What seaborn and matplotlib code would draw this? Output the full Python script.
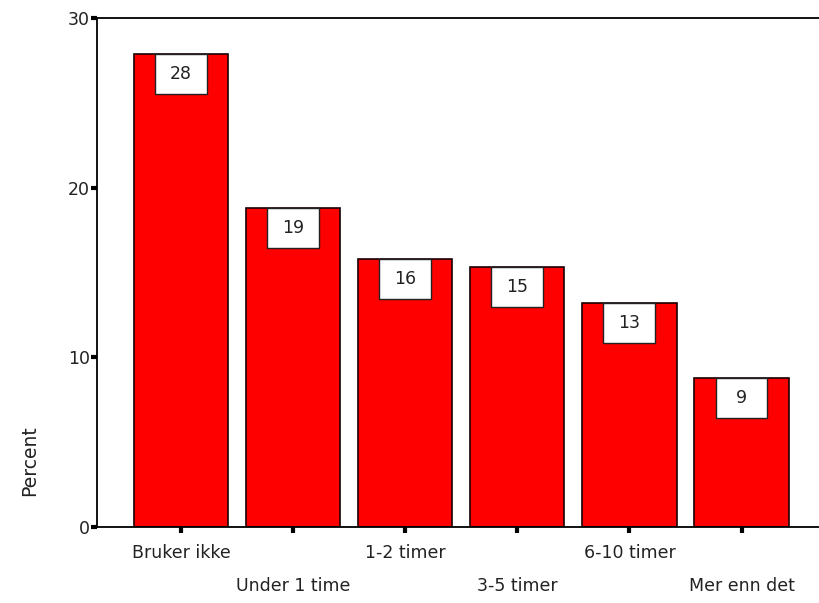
import pandas as pd
import seaborn as sns
import matplotlib.pyplot as plt
from matplotlib.patches import Rectangle

# data
categories = ['Bruker ikke', 'Under 1 time', '1-2 timer', '3-5 timer', '6-10 timer', 'Mer enn det']
percent = [27.9, 18.8, 15.8, 15.3, 13.2, 8.8]

df = pd.DataFrame({'Kategori': categories, 'Percent': percent})

sns.set_style('white')
plt.rcParams['font.family'] = ['DejaVu Sans']

fig = plt.figure(figsize=(8.2, 6.03), dpi=100)
ax = fig.add_axes([97 / 820, 76 / 603, 723 / 820, 509 / 603])

sns.barplot(data=df, x='Kategori', y='Percent', color='#ff0000', saturation=1,
            edgecolor='#1a0000', linewidth=1.2, width=0.84, ax=ax)

# white value boxes hanging from top of each bar
box_w, box_h = 52 / 112.3, 40 / 16.97
for i, v in enumerate(percent):
    ax.add_patch(Rectangle((i - box_w / 2, v - box_h), box_w, box_h,
                           facecolor='white', edgecolor='#222222', linewidth=1, zorder=3))
    ax.text(i, v - box_h / 2, f'{v:.0f}', ha='center', va='center', fontsize=12.5,
            color='#222222', zorder=4)

ax.set_ylim(0, 30)
ax.set_xlim(-0.75, 5.7)
ax.set_yticks([0, 10, 20, 30])
ax.set_xlabel('')
ax.set_ylabel('Percent', fontsize=13.5, color='#222222')
ax.yaxis.set_label_coords(-0.08, 0.13)

for s in ['left', 'bottom', 'top']:
    ax.spines[s].set_color('black')
    ax.spines[s].set_linewidth(1.3)
ax.spines['right'].set_visible(False)

ax.tick_params(axis='both', which='major', length=4, width=3, color='black',
               labelsize=12.5, labelcolor='#222222', bottom=True, left=True)
ax.tick_params(axis='y', pad=1)

# stagger the category labels on two rows
for i, t in enumerate(ax.xaxis.get_major_ticks()):
    t.set_pad(8 if i % 2 == 0 else 32)

plt.savefig('out.png', dpi=100)
